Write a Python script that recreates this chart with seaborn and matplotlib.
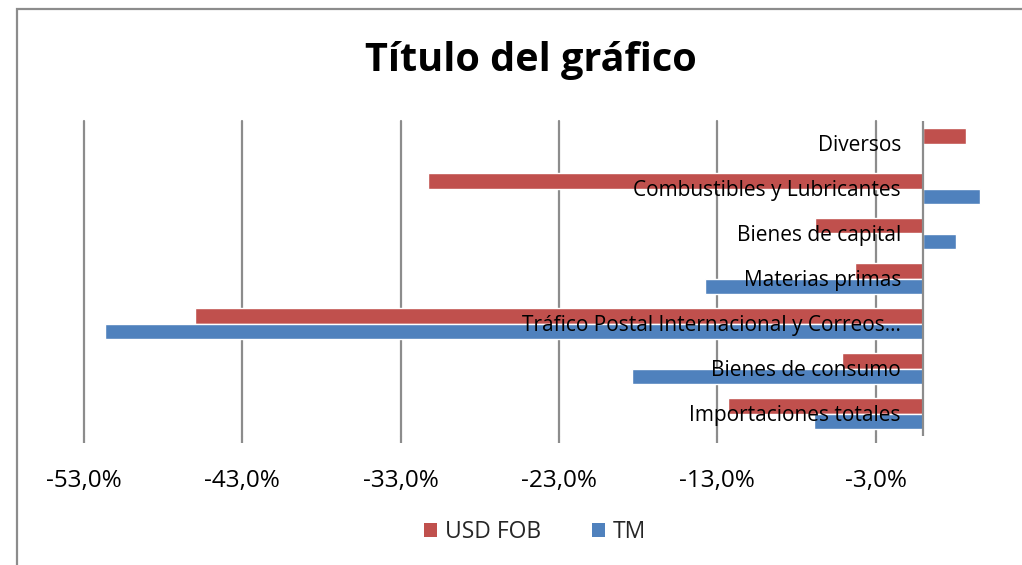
import matplotlib
matplotlib.use("Agg")
import matplotlib.pyplot as plt
import matplotlib.transforms as mtransforms
from matplotlib.patches import Rectangle, Patch
import seaborn as sns
import pandas as pd

# Categories, listed top to bottom as they appear on the chart
categorias = [
    "Diversos",
    "Combustibles y Lubricantes",
    "Bienes de capital",
    "Materias primas",
    "Tráfico Postal Internacional y Correos…",
    "Bienes de consumo",
    "Importaciones totales",
]
series = ["USD FOB", "TM"]
usd_fob = [2.7, -31.3, -6.8, -4.3, -46.0, -5.1, -12.3]
tm = [0.0, 3.6, 2.1, -13.8, -51.7, -18.4, -6.9]
ticks = [-53, -43, -33, -23, -13, -3]
colores = ["#C0504D", "#4F81BD"]

df = pd.DataFrame({
    "categoria": categorias * 2,
    "serie": [series[0]] * len(categorias) + [series[1]] * len(categorias),
    "valor": usd_fob + tm,
})

sns.set_theme(style="white")
plt.rcParams["font.family"] = ["Open Sans", "DejaVu Sans"]

W, H = 1022, 565
fig = plt.figure(figsize=(W / 100, H / 100), dpi=100)
fig.patch.set_facecolor("white")

x_min, x_max = -53, 4.5
unit_px = 15.83
left_px, right_px = 84, 84 + (x_max - x_min) * unit_px
top_px, bottom_px = 121, 436
ax = fig.add_axes([left_px / W, 1 - bottom_px / H,
                   (right_px - left_px) / W, (bottom_px - top_px) / H])

sns.barplot(data=df, y="categoria", x="valor", hue="serie", order=categorias,
            hue_order=series, palette=colores, orient="h", width=0.68,
            edgecolor="white", linewidth=1.0, saturation=1, legend=False, ax=ax)

ax.set_xlim(x_min, x_max)
ax.set_ylim(len(categorias) - 0.5, -0.5)
ax.set_xticks(ticks)
ax.set_xticklabels([f"{t:.1f}%".replace(".", ",") for t in ticks])
ax.set_yticks([])
ax.set_xlabel("")
ax.set_ylabel("")
for s in ax.spines.values():
    s.set_visible(False)

grid_c = "#8C8C8C"
ax.set_axisbelow(True)
ax.xaxis.grid(True, color=grid_c, linewidth=1.6)
for gl in ax.get_xgridlines():
    gl.set_clip_on(False)
ax.tick_params(axis="x", length=5, width=1.6, color=grid_c, direction="out",
               labelsize=17.5, pad=19, labelcolor="black", bottom=True)
ax.axvline(0, color=grid_c, linewidth=1.6, zorder=3)

# Category names sit just left of the zero line
off = mtransforms.offset_copy(ax.transData, fig=fig, x=-22, y=0, units="dots")
for i, c in enumerate(categorias):
    ax.text(0, i + 0.05, c, transform=off, ha="right", va="center",
            fontsize=15, color="black", zorder=4)

# Chart area is centred a little right of the image middle
cx = 531 / W
fig.text(cx, 1 - 61 / H, "Título del gráfico", ha="center", va="center",
         fontsize=28.5, fontweight="bold", color="black")

handles = [Patch(facecolor=colores[0], edgecolor="none"),
           Patch(facecolor=colores[1], edgecolor="none")]
fig.legend(handles, series, loc="center", bbox_to_anchor=(535 / W, 1 - 532 / H),
           ncol=2, frameon=False, fontsize=16.5, handlelength=0.55,
           handleheight=0.55, handletextpad=0.35, columnspacing=2.25)

# Outer chart border
fig.patches.append(Rectangle((17 / W, -0.05), 1.2, 1 - 9 / H + 0.05,
                             transform=fig.transFigure, fill=False,
                             edgecolor="#8C8C8C", linewidth=1.6))

fig.savefig("out.png", dpi=100)
